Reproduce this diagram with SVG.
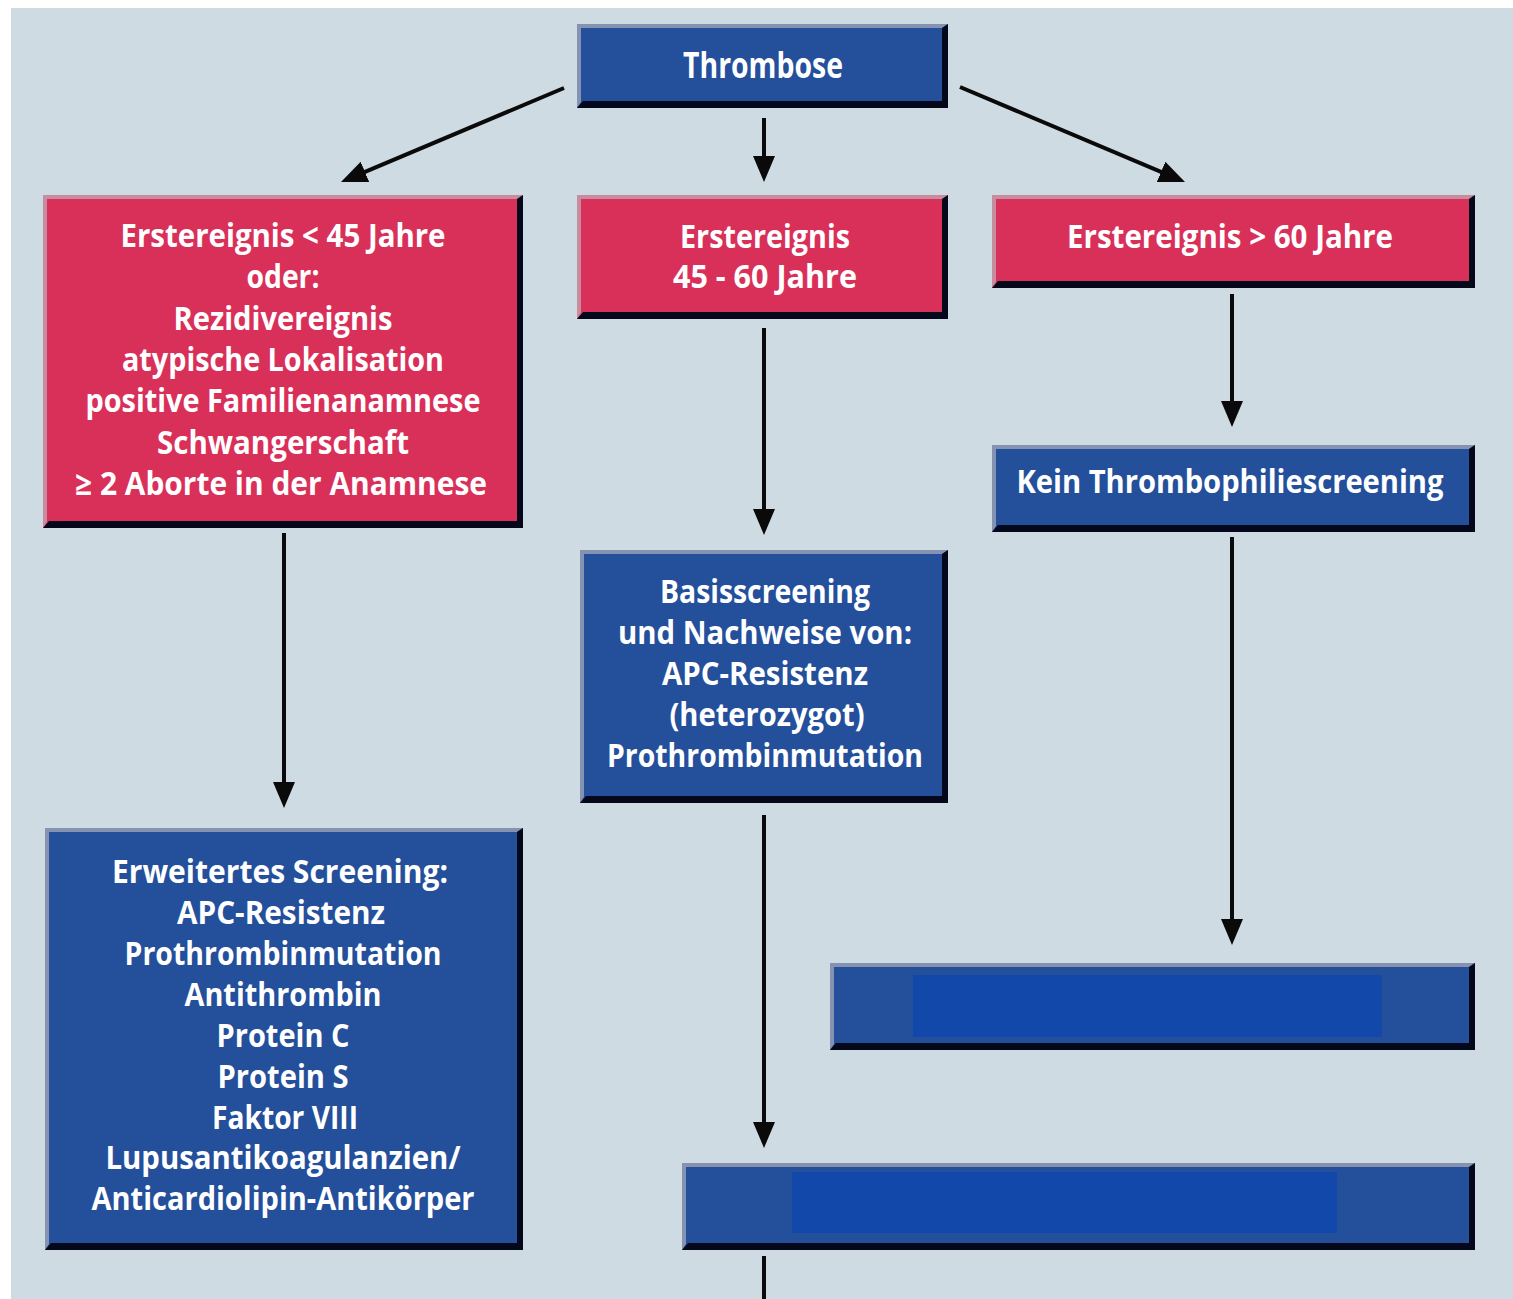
<svg xmlns="http://www.w3.org/2000/svg" width="1513" height="1299" viewBox="0 0 1513 1299">
  <style>
    .bg { fill: #cfdbe3; }
    .blue { fill: #244f9b; }
    .pink { fill: #d9305a; }
    .inner { fill: #1248aa; }
    .lightb { fill: #8593b0; }
    .lightp { fill: #c78d9e; }
    .dark { fill: #05071a; }
    .t { font-family: "Open Sans", "Liberation Sans", sans-serif; font-weight: 700; font-size: 32px; fill: #ffffff; text-anchor: middle; }
    .big { font-size: 36px; }
    .conn line { stroke: #0a0a0a; stroke-width: 4; fill: none; }
  </style>
  <defs>
    <marker id="ah" markerUnits="userSpaceOnUse" markerWidth="26" markerHeight="22" refX="16" refY="11" orient="auto">
      <path d="M0,0 L26,11 L0,22 z" fill="#0a0a0a"/>
    </marker>
  </defs>

  <rect width="1513" height="1299" fill="#ffffff"/>
  <rect class="bg" x="11" y="8" width="1502" height="1291"/>

  <g id="connectors" class="conn">
    <line x1="564" y1="88" x2="350.2" y2="178.1" marker-end="url(#ah)"/>
    <line x1="764" y1="118" x2="764" y2="172" marker-end="url(#ah)"/>
    <line x1="960" y1="87" x2="1175.8" y2="178.1" marker-end="url(#ah)"/>
    <line x1="284" y1="533" x2="284" y2="798" marker-end="url(#ah)"/>
    <line x1="764" y1="328" x2="764" y2="525" marker-end="url(#ah)"/>
    <line x1="764" y1="815" x2="764" y2="1138" marker-end="url(#ah)"/>
    <line x1="1232" y1="294" x2="1232" y2="417" marker-end="url(#ah)"/>
    <line x1="1232" y1="537" x2="1232" y2="935" marker-end="url(#ah)"/>
    <line x1="764" y1="1256" x2="764" y2="1299"/>
  </g>

  <g id="node-thrombose">
    <rect class="blue" x="577" y="24" width="371" height="84"/>
    <polygon class="lightb" points="577,108 577,24 948,24 942,28 581,28 581,102"/>
    <polygon class="dark" points="577,108 948,108 948,24 942,28 942,101 583,101"/>
    <text class="t big" x="763" y="78" textLength="160" lengthAdjust="spacingAndGlyphs">Thrombose</text>
  </g>

  <g id="node-lt45">
    <rect class="pink" x="43" y="195" width="480" height="333"/>
    <polygon class="lightp" points="43,528 43,195 523,195 517,199 47,199 47,522"/>
    <polygon class="dark" points="43,528 523,528 523,195 517,199 517,521 49,521"/>
    <text class="t" x="283" y="247" textLength="325" lengthAdjust="spacingAndGlyphs">Erstereignis &lt; 45 Jahre</text>
    <text class="t" x="283" y="288" textLength="73" lengthAdjust="spacingAndGlyphs">oder:</text>
    <text class="t" x="283" y="330" textLength="219" lengthAdjust="spacingAndGlyphs">Rezidivereignis</text>
    <text class="t" x="283" y="371" textLength="322" lengthAdjust="spacingAndGlyphs">atypische Lokalisation</text>
    <text class="t" x="283" y="412" textLength="395" lengthAdjust="spacingAndGlyphs">positive Familienanamnese</text>
    <text class="t" x="283" y="454" textLength="252" lengthAdjust="spacingAndGlyphs">Schwangerschaft</text>
    <text class="t" x="281" y="495" textLength="412" lengthAdjust="spacingAndGlyphs">≥ 2 Aborte in der Anamnese</text>
  </g>

  <g id="node-45-60">
    <rect class="pink" x="577" y="195" width="371" height="124"/>
    <polygon class="lightp" points="577,319 577,195 948,195 942,199 581,199 581,313"/>
    <polygon class="dark" points="577,319 948,319 948,195 942,199 942,312 583,312"/>
    <text class="t" x="765" y="248" textLength="170" lengthAdjust="spacingAndGlyphs">Erstereignis</text>
    <text class="t" x="765" y="288" textLength="184" lengthAdjust="spacingAndGlyphs">45 - 60 Jahre</text>
  </g>

  <g id="node-gt60">
    <rect class="pink" x="992" y="195" width="483" height="93"/>
    <polygon class="lightp" points="992,288 992,195 1475,195 1469,199 996,199 996,282"/>
    <polygon class="dark" points="992,288 1475,288 1475,195 1469,199 1469,281 998,281"/>
    <text class="t" x="1230" y="248" textLength="326" lengthAdjust="spacingAndGlyphs">Erstereignis &gt; 60 Jahre</text>
  </g>

  <g id="node-kein">
    <rect class="blue" x="992" y="445" width="483" height="87"/>
    <polygon class="lightb" points="992,532 992,445 1475,445 1469,449 996,449 996,526"/>
    <polygon class="dark" points="992,532 1475,532 1475,445 1469,449 1469,525 998,525"/>
    <text class="t" x="1230" y="493" textLength="427" lengthAdjust="spacingAndGlyphs">Kein Thrombophiliescreening</text>
  </g>

  <g id="node-basis">
    <rect class="blue" x="580" y="550" width="368" height="253"/>
    <polygon class="lightb" points="580,803 580,550 948,550 942,554 584,554 584,797"/>
    <polygon class="dark" points="580,803 948,803 948,550 942,554 942,796 586,796"/>
    <text class="t" x="765" y="603" textLength="210" lengthAdjust="spacingAndGlyphs">Basisscreening</text>
    <text class="t" x="765" y="644" textLength="294" lengthAdjust="spacingAndGlyphs">und Nachweise von:</text>
    <text class="t" x="765" y="685" textLength="206" lengthAdjust="spacingAndGlyphs">APC-Resistenz</text>
    <text class="t" x="767" y="726" textLength="195" lengthAdjust="spacingAndGlyphs">(heterozygot)</text>
    <text class="t" x="765" y="767" textLength="316" lengthAdjust="spacingAndGlyphs">Prothrombinmutation</text>
  </g>

  <g id="node-erweitert">
    <rect class="blue" x="45" y="828" width="478" height="422"/>
    <polygon class="lightb" points="45,1250 45,828 523,828 517,832 49,832 49,1244"/>
    <polygon class="dark" points="45,1250 523,1250 523,828 517,832 517,1243 51,1243"/>
    <text class="t" x="280" y="883" textLength="336" lengthAdjust="spacingAndGlyphs">Erweitertes Screening:</text>
    <text class="t" x="281" y="924" textLength="208" lengthAdjust="spacingAndGlyphs">APC-Resistenz</text>
    <text class="t" x="283" y="965" textLength="317" lengthAdjust="spacingAndGlyphs">Prothrombinmutation</text>
    <text class="t" x="283" y="1006" textLength="197" lengthAdjust="spacingAndGlyphs">Antithrombin</text>
    <text class="t" x="283" y="1047" textLength="133" lengthAdjust="spacingAndGlyphs">Protein C</text>
    <text class="t" x="283" y="1088" textLength="131" lengthAdjust="spacingAndGlyphs">Protein S</text>
    <text class="t" x="285" y="1129" textLength="146" lengthAdjust="spacingAndGlyphs">Faktor VIII</text>
    <text class="t" x="283" y="1169" textLength="355" lengthAdjust="spacingAndGlyphs">Lupusantikoagulanzien/</text>
    <text class="t" x="283" y="1210" textLength="383" lengthAdjust="spacingAndGlyphs">Anticardiolipin-Antikörper</text>
  </g>

  <g id="node-blank-right">
    <rect class="blue" x="830" y="963" width="645" height="87"/>
    <polygon class="lightb" points="830,1050 830,963 1475,963 1469,967 834,967 834,1044"/>
    <polygon class="dark" points="830,1050 1475,1050 1475,963 1469,967 1469,1043 836,1043"/>
    <rect class="inner" x="913" y="975" width="469" height="62"/>
  </g>

  <g id="node-blank-bottom">
    <rect class="blue" x="682" y="1163" width="793" height="87"/>
    <polygon class="lightb" points="682,1250 682,1163 1475,1163 1469,1167 686,1167 686,1244"/>
    <polygon class="dark" points="682,1250 1475,1250 1475,1163 1469,1167 1469,1243 688,1243"/>
    <rect class="inner" x="792" y="1172" width="545" height="61"/>
  </g>
</svg>
